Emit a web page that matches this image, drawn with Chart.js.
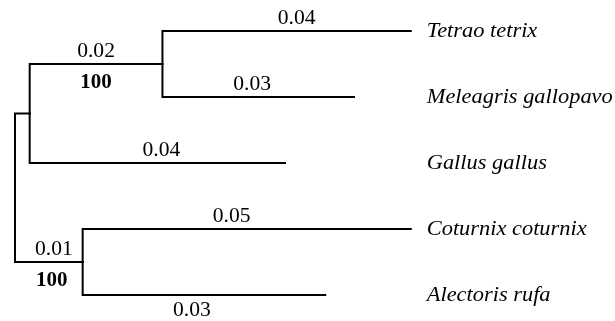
<!DOCTYPE html>
<html>
<head>
<meta charset="utf-8">
<script src="https://cdn.jsdelivr.net/npm/chart.js@4/dist/chart.umd.min.js"></script>
<style>
  html, body { margin: 0; padding: 0; background: #fff; }
  #tree { display: block; }
</style>
</head>
<body>
<canvas id="tree" width="615" height="321"></canvas>
<script>
// taxa, top to bottom
const taxa = ['Tetrao tetrix', 'Meleagris gallopavo', 'Gallus gallus', 'Coturnix coturnix', 'Alectoris rufa'];

// tree nodes: internal nodes first, then the tips
const nodes = ['root', 'n1', 'n2', 'n3', ...taxa];
const parents = [null, 'root', 'n1', 'root', 'n2', 'n2', 'n1', 'n3', 'n3'];
const branchLengths = [0, 0.0023, 0.0208, 0.0106, 0.0389, 0.0300, 0.0400, 0.0514, 0.0380];
const branchLabels = ['', '', '0.02', '0.01', '0.04', '0.03', '0.04', '0.05', '0.03'];
const bootstrap = ['', '', '100', '100', '', '', '', '', ''];

// work out node coordinates (x = distance from root, y = row)
const pos = {};
const depth = name => {
  const i = nodes.indexOf(name);
  return parents[i] ? depth(parents[i]) + branchLengths[i] : 0;
};
const row = name => {
  if (taxa.includes(name)) return taxa.indexOf(name);
  const kids = nodes.filter((n, i) => parents[i] === name).map(row);
  return kids.reduce((s, v) => s + v, 0) / kids.length;
};
nodes.forEach(n => pos[n] = { x: depth(n), y: row(n) });

const edges = nodes.map((n, i) => ({ node: n, parent: parents[i], label: branchLabels[i], boot: bootstrap[i] }))
  .filter(e => e.parent);

const datasets = edges.map(e => ({
  data: [
    { x: pos[e.parent].x, y: pos[e.parent].y },
    { x: pos[e.parent].x, y: pos[e.node].y },
    { x: pos[e.node].x, y: pos[e.node].y },
  ],
  showLine: true,
  borderColor: '#000',
  borderWidth: 2,
  pointRadius: 0,
  tension: 0,
  borderJoinStyle: 'miter',
  borderCapStyle: 'square',
  clip: false,
}));

const SERIF = '"Liberation Serif", "Times New Roman", serif';

// the original text is a little wider than plain Times
function wideText(ctx, text, x, y, sx) {
  ctx.save();
  ctx.translate(x, y);
  ctx.scale(sx, 1);
  ctx.fillText(text, 0, 0);
  ctx.restore();
}

const treeLabels = {
  id: 'treeLabels',
  afterDatasetsDraw(chart, args, opts) {
    const { ctx, scales: { x, y } } = chart;
    ctx.save();
    ctx.fillStyle = '#000';
    ctx.textBaseline = 'middle';
    ctx.textAlign = 'center';
    edges.forEach(e => {
      const x0 = x.getPixelForValue(pos[e.parent].x);
      const x1 = x.getPixelForValue(pos[e.node].x);
      const yy = y.getPixelForValue(pos[e.node].y);
      const mid = (x0 + x1) / 2 + (opts.shift[e.node] || 0);
      if (e.label) {
        ctx.font = '20px ' + SERIF;
        const below = opts.below.includes(e.node);
        wideText(ctx, e.label, mid, below ? yy + 16 : yy - 12, 1.08);
      }
      if (e.boot) {
        ctx.font = 'bold 20px ' + SERIF;
        wideText(ctx, e.boot, (x0 + x1) / 2 + (e.node === 'n3' ? 3 : 0), yy + 19, 1.05);
      }
    });
    // species names in one column right of the longest tip
    const tipX = Math.max(...taxa.map(t => x.getPixelForValue(pos[t].x)));
    ctx.textAlign = 'left';
    ctx.font = 'italic 20px ' + SERIF;
    taxa.forEach(t => wideText(ctx, t, tipX + 16, y.getPixelForValue(pos[t].y) + 1, 1.12));
    ctx.restore();
  }
};

new Chart(document.getElementById('tree'), {
  type: 'scatter',
  data: { datasets },
  options: {
    responsive: false,
    animation: false,
    layout: { padding: { left: 15, right: 0, top: 0, bottom: 0 } },
    plugins: {
      legend: { display: false },
      tooltip: { enabled: false },
      treeLabels: {
        below: ['Alectoris rufa'],
        shift: { 'n3': 5, 'Tetrao tetrix': 10, 'Meleagris gallopavo': -6, 'Gallus gallus': 4, 'Coturnix coturnix': -15, 'Alectoris rufa': -12 },
      },
    },
    scales: {
      x: { type: 'linear', display: false, min: 0, max: 0.094 },
      y: { type: 'linear', display: false, min: -31 / 66, max: 321 / 66 - 31 / 66, reverse: true },
    },
  },
  plugins: [treeLabels],
});
</script>
</body>
</html>
